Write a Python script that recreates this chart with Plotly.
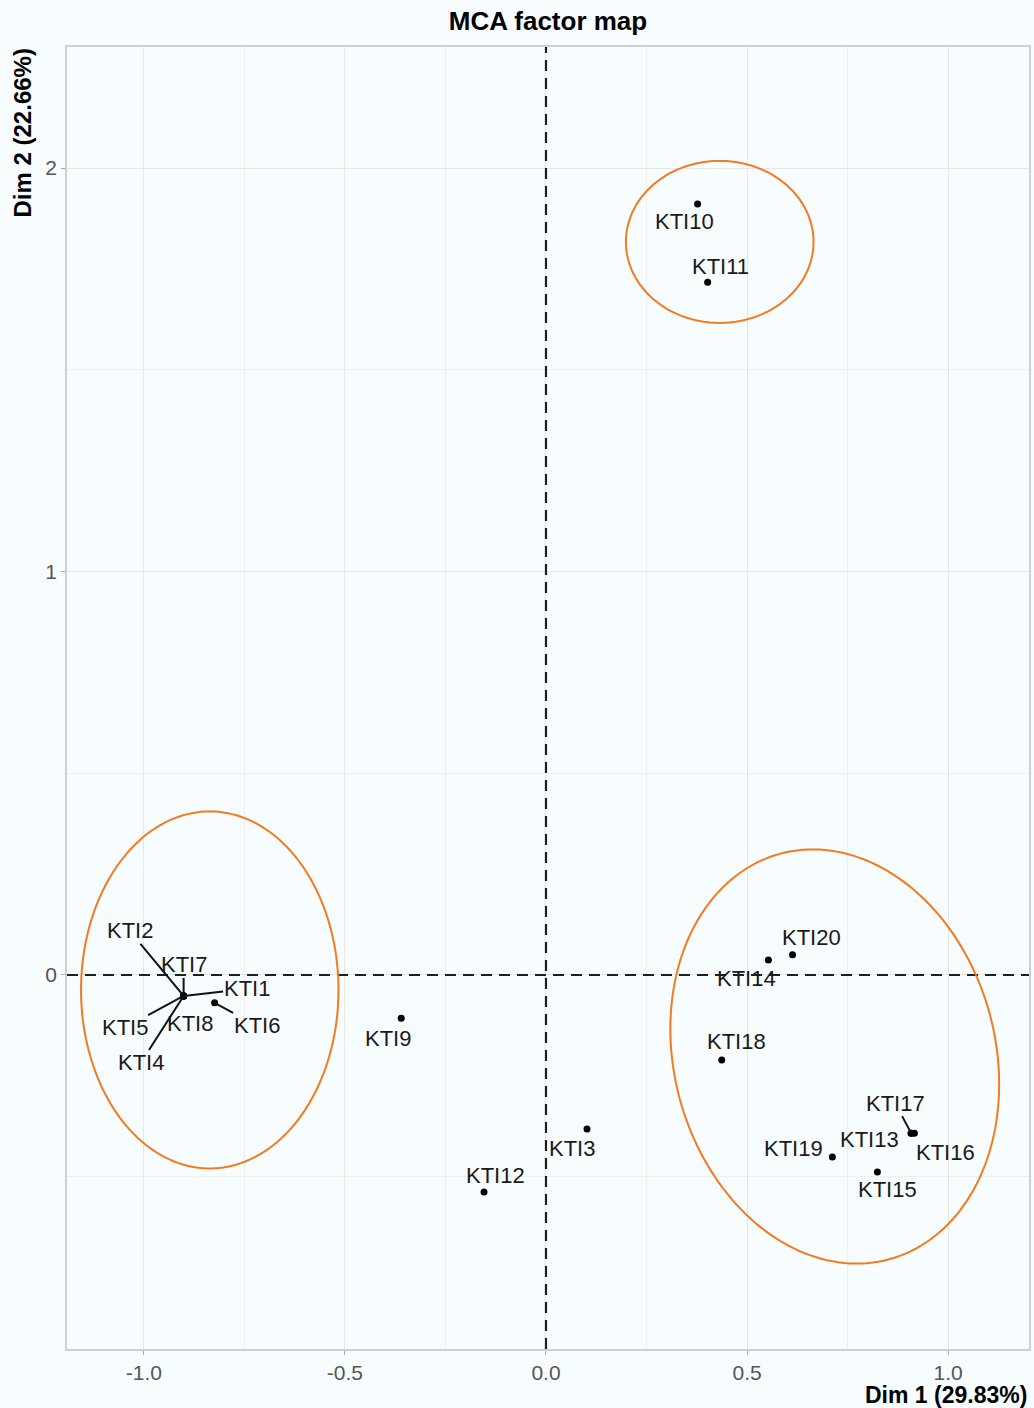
import numpy as np
import plotly.graph_objects as go

# ---- data ----
labels = ["KTI1", "KTI2", "KTI3", "KTI4", "KTI5", "KTI6", "KTI7", "KTI8", "KTI9", "KTI10",
          "KTI11", "KTI12", "KTI13", "KTI14", "KTI15", "KTI16", "KTI17", "KTI18", "KTI19", "KTI20"]
dim1 = [-0.901, -0.901, 0.102, -0.901, -0.901, -0.824, -0.901, -0.901, -0.360, 0.377,
        0.402, -0.154, 0.908, 0.553, 0.824, 0.916, 0.908, 0.437, 0.712, 0.613]
dim2 = [-0.052, -0.052, -0.382, -0.052, -0.052, -0.069, -0.052, -0.052, -0.107, 1.911,
        1.717, -0.538, -0.392, 0.037, -0.488, -0.392, -0.392, -0.211, -0.451, 0.050]

x_ticks = [-1.0, -0.5, 0.0, 0.5, 1.0]
x_tick_text = ["-1.0", "-0.5", "0.0", "0.5", "1.0"]
y_ticks = [0, 1, 2]

# ---- label placement (pixel offsets, repel style) ----
label_dx = {"KTI1": 63, "KTI2": -54, "KTI3": -15, "KTI4": -43, "KTI5": -59, "KTI6": 42,
            "KTI7": 0, "KTI8": 6, "KTI9": -13, "KTI10": -13, "KTI11": 13, "KTI12": 11,
            "KTI13": -42, "KTI14": -22, "KTI15": 10, "KTI16": 31, "KTI17": -16,
            "KTI18": 15, "KTI19": -39, "KTI20": 19}
label_dy = {"KTI1": -7, "KTI2": -65, "KTI3": 19, "KTI4": 67, "KTI5": 32, "KTI6": 23,
            "KTI7": -31, "KTI8": 28, "KTI9": 20, "KTI10": 18, "KTI11": -16, "KTI12": -17,
            "KTI13": 6, "KTI14": 18, "KTI15": 18, "KTI16": 19, "KTI17": -30,
            "KTI18": -19, "KTI19": -8, "KTI20": -17}
with_segment = {"KTI1", "KTI2", "KTI4", "KTI5", "KTI6", "KTI7", "KTI17"}

# ---- ellipse outlines: center (data), semi-axes (px), rotation (deg) ----
ell_cx = [-0.836, 0.432, 0.718]
ell_cy = [-0.037, 1.817, -0.202]
ell_rx = [129, 94, 161]
ell_ry = [178.5, 81, 210]
ell_rot = [0, 0, 15]

W, H = 1034, 1408
L, R, T, B = 67, 3, 47, 59
x_range = [-1.191, 1.201]
y_range = [-0.927, 2.300]
px_x = (W - L - R) / (x_range[1] - x_range[0])
px_y = (H - T - B) / (y_range[1] - y_range[0])

FONT = "Liberation Sans, Arial, Helvetica, sans-serif"
BG = "#F7FCFE"
ORANGE = "#F47A1F"

fig = go.Figure()
fig.add_trace(go.Scatter(x=dim1, y=dim2, mode="markers",
                         marker=dict(color="black", size=7),
                         hoverinfo="text", text=labels, showlegend=False))

shapes = []
shapes.append(dict(type="line", xref="x", yref="paper", x0=0, x1=0, y0=0, y1=1,
                   line=dict(color="#1e1e1e", width=2.2, dash="11px,7px"), layer="above"))
shapes.append(dict(type="line", xref="paper", yref="y", x0=0, x1=1, y0=0, y1=0,
                   line=dict(color="#1e1e1e", width=2.2, dash="11px,7px"), layer="above"))

t = np.linspace(0, 2 * np.pi, 181)
for cx, cy, rx, ry, rot in zip(ell_cx, ell_cy, ell_rx, ell_ry, ell_rot):
    ph = np.deg2rad(rot)
    ux = rx * np.cos(t) * np.cos(ph) - ry * np.sin(t) * np.sin(ph)
    uy = rx * np.cos(t) * np.sin(ph) + ry * np.sin(t) * np.cos(ph)
    xs = cx + ux / px_x
    ys = cy + uy / px_y
    path = "M " + " L ".join(f"{a:.5f},{b:.5f}" for a, b in zip(xs, ys)) + " Z"
    shapes.append(dict(type="path", xref="x", yref="y", path=path,
                       line=dict(color=ORANGE, width=2), layer="above"))

annotations = []
for lab, xv, yv in zip(labels, dim1, dim2):
    seg = lab in with_segment
    annotations.append(dict(
        x=xv, y=yv, xref="x", yref="y", text=lab,
        showarrow=True, ax=label_dx[lab], ay=label_dy[lab],
        axref="pixel", ayref="pixel",
        arrowhead=0, arrowwidth=2, standoff=0, startstandoff=0,
        arrowcolor="#111111" if seg else "rgba(0,0,0,0)",
        font=dict(family=FONT, size=22, color="#1a1a1a"),
        borderpad=0))

annotations.append(dict(text="<b>Dim 1 (29.83%)</b>", xref="paper", yref="paper",
                        x=1, y=0, xanchor="right", yanchor="middle", yshift=-46,
                        showarrow=False, font=dict(family=FONT, size=23, color="black")))
annotations.append(dict(text="<b>Dim 2 (22.66%)</b>", xref="paper", yref="paper",
                        x=0, y=1, xanchor="center", yanchor="top", xshift=-45,
                        textangle=-90, showarrow=False,
                        font=dict(family=FONT, size=24, color="black")))

fig.update_layout(
    width=W, height=H,
    margin=dict(l=L, r=R, t=T, b=B),
    paper_bgcolor=BG, plot_bgcolor=BG,
    title=dict(text="<b>MCA factor map</b>", x=0.5, xref="paper",
               y=1 - 21 / H, yref="container", yanchor="middle", xanchor="center",
               font=dict(family=FONT, size=26, color="black")),
    shapes=shapes, annotations=annotations,
    xaxis=dict(range=x_range, tickvals=x_ticks, ticktext=x_tick_text,
               showgrid=True, gridcolor="#E6E6E6", gridwidth=1, zeroline=False,
               showline=True, mirror=True, linecolor="#CFCFCF", linewidth=1.5,
               ticks="outside", ticklen=4, tickcolor="#AAAAAA",
               tickfont=dict(family=FONT, size=21, color="#555555"),
               minor=dict(dtick=0.25, tick0=0, showgrid=True, gridcolor="#EFEFEF", gridwidth=1)),
    yaxis=dict(range=y_range, tickvals=y_ticks,
               showgrid=True, gridcolor="#E6E6E6", gridwidth=1, zeroline=False,
               showline=True, mirror=True, linecolor="#CFCFCF", linewidth=1.5,
               ticks="outside", ticklen=4, tickcolor="#AAAAAA",
               tickfont=dict(family=FONT, size=21, color="#555555"),
               minor=dict(dtick=0.5, tick0=0, showgrid=True, gridcolor="#EFEFEF", gridwidth=1)),
)

fig.write_html("out.html", config={"displayModeBar": False},
               post_script="document.body.style.margin='0';"
                           "document.body.style.background='" + BG + "';")
